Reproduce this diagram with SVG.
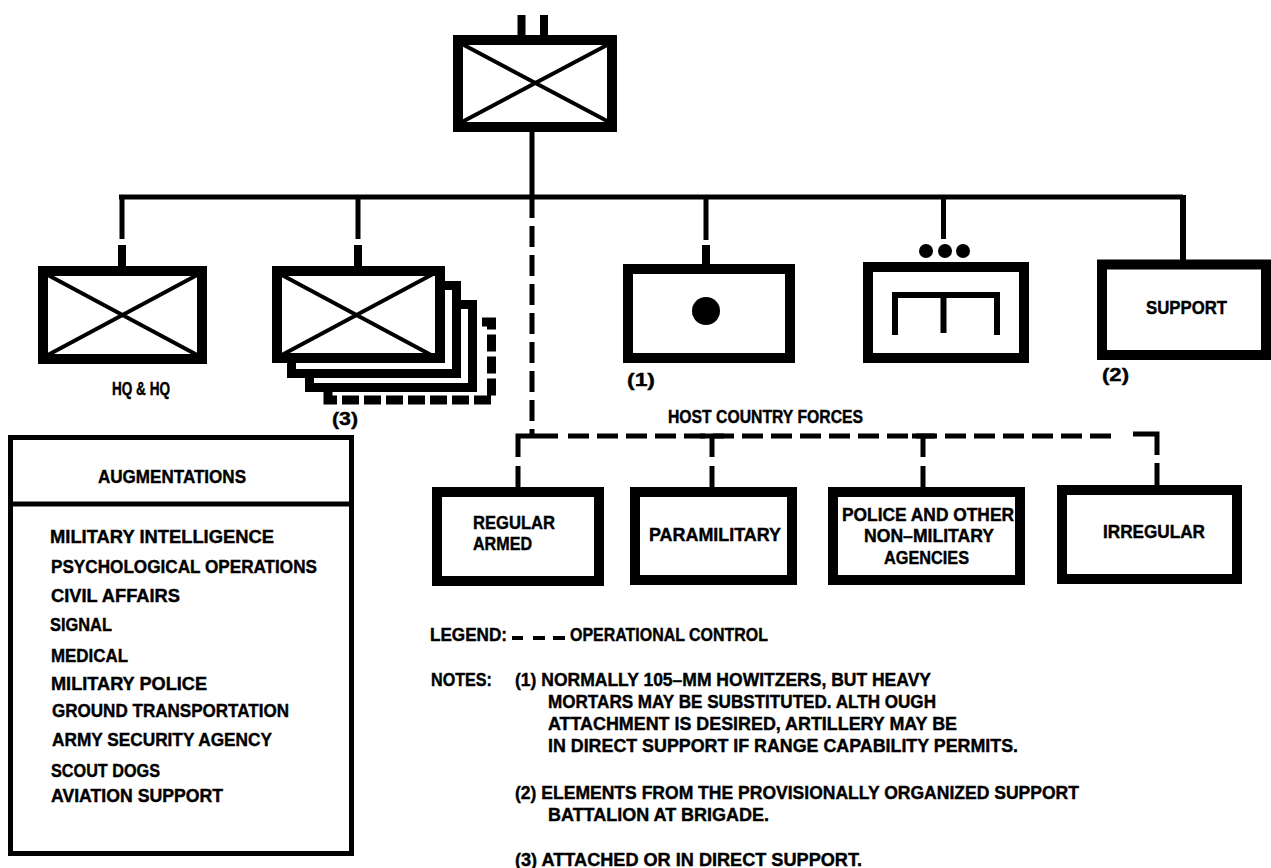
<svg xmlns="http://www.w3.org/2000/svg" width="1271" height="868" viewBox="0 0 1271 868">
<style>
.b{fill:#fff;stroke:#000;stroke-width:10}
.x{stroke:#000;stroke-width:4;fill:none}
.l{stroke:#000;stroke-width:5;fill:none}
.s{stroke:#000;stroke-width:8;fill:none}
.d{stroke:#000;stroke-width:5;fill:none;stroke-dasharray:21 8}
text{font-family:"Liberation Sans",Arial,sans-serif;font-weight:bold;font-size:18px;fill:#000;stroke:#000;stroke-width:.4}
</style>
<rect width="1271" height="868" fill="#fff"/>
<g id="connectors">
<path class="s" d="M521.500 15V36M544 15V36M122 245V266M358 245V266M706 245V264"/>
<path class="l" d="M532 132V197M119 197H1183M122 197V239M358 197V239M706 197V240M943.500 197V239"/>
<path class="l" style="stroke-width:6" d="M1183 195V260"/>
<path class="d" d="M532 197V436"/>
<path class="l" d="M518 487V466M518 457V436H558M712 487V466M712 457V436M923 487V466M923 457V436M1157 485V463M1157 455V434H1133M700 436H724M912 436H935"/>
<path class="d" d="M568 436H1118"/>
</g>
<g id="top"><rect class="b" x="458" y="40" width="154" height="87"/><path class="x" d="M462 44L609 122M609 44L462 122"/></g>
<g id="hq"><rect class="b" x="43" y="271" width="159" height="88"/><path class="x" d="M46 274L199 356M199 274L46 356"/><text x="112" y="395" textLength="58" lengthAdjust="spacingAndGlyphs">HQ &amp; HQ</text></g>
<g id="stack">
<rect fill="#fff" stroke="#000" stroke-width="9" stroke-dasharray="17 5" x="328" y="322" width="163.500" height="78"/>
<rect fill="#fff" stroke="#000" stroke-width="9" x="309.500" y="304.500" width="163" height="83"/>
<rect fill="#fff" stroke="#000" stroke-width="9" x="291.500" y="285.500" width="165" height="88"/>
<rect class="b" x="277" y="271" width="163" height="87"/><path class="x" d="M280 274L433 356M433 274L280 356"/>
<text x="332" y="425" textLength="26" lengthAdjust="spacingAndGlyphs">(3)</text></g>
<g id="artillery"><rect class="b" x="628" y="269" width="162" height="89"/><circle cx="706" cy="311" r="14"/><text x="627" y="386" textLength="28" lengthAdjust="spacingAndGlyphs">(1)</text></g>
<g id="engineer"><rect class="b" x="868" y="267" width="156" height="91"/><path fill="none" stroke="#000" stroke-width="6" d="M895 335V295H997V335M943.500 295V333"/><circle cx="926" cy="251" r="7"/><circle cx="945" cy="251" r="7"/><circle cx="963" cy="251" r="7"/></g>
<g id="support"><rect class="b" x="1102" y="264.500" width="164" height="90.500"/><text x="1146" y="314" textLength="81" lengthAdjust="spacingAndGlyphs">SUPPORT</text><text x="1102" y="381" textLength="27" lengthAdjust="spacingAndGlyphs">(2)</text></g>
<g id="augmentations">
<rect fill="#fff" stroke="#000" stroke-width="5" x="10.500" y="437.500" width="341" height="416"/>
<path stroke="#000" stroke-width="5" d="M8 504H354"/>
<text x="98" y="483" textLength="148" lengthAdjust="spacingAndGlyphs">AUGMENTATIONS</text>
<text x="50" y="543" textLength="224" lengthAdjust="spacingAndGlyphs">MILITARY INTELLIGENCE</text>
<text x="51" y="573" textLength="266" lengthAdjust="spacingAndGlyphs">PSYCHOLOGICAL OPERATIONS</text>
<text x="51" y="602" textLength="129" lengthAdjust="spacingAndGlyphs">CIVIL AFFAIRS</text>
<text x="50" y="631" textLength="62" lengthAdjust="spacingAndGlyphs">SIGNAL</text>
<text x="51" y="662" textLength="77" lengthAdjust="spacingAndGlyphs">MEDICAL</text>
<text x="51" y="690" textLength="156" lengthAdjust="spacingAndGlyphs">MILITARY POLICE</text>
<text x="52" y="717" textLength="237" lengthAdjust="spacingAndGlyphs">GROUND TRANSPORTATION</text>
<text x="52" y="746" textLength="220" lengthAdjust="spacingAndGlyphs">ARMY SECURITY AGENCY</text>
<text x="51" y="777" textLength="109" lengthAdjust="spacingAndGlyphs">SCOUT DOGS</text>
<text x="51" y="802" textLength="172" lengthAdjust="spacingAndGlyphs">AVIATION SUPPORT</text>
</g>
<text id="host-label" x="668" y="423" textLength="195" lengthAdjust="spacingAndGlyphs">HOST COUNTRY FORCES</text>
<g id="regular"><rect class="b" x="437" y="492" width="162" height="89"/><text x="473" y="529" textLength="82" lengthAdjust="spacingAndGlyphs">REGULAR</text><text x="473" y="550" textLength="59" lengthAdjust="spacingAndGlyphs">ARMED</text></g>
<g id="para"><rect class="b" x="635" y="492" width="157" height="88"/><text x="649" y="541" textLength="132" lengthAdjust="spacingAndGlyphs">PARAMILITARY</text></g>
<g id="police"><rect class="b" x="833" y="492" width="187" height="88"/><text x="842" y="521" textLength="172" lengthAdjust="spacingAndGlyphs">POLICE AND OTHER</text><text x="864" y="542" textLength="130" lengthAdjust="spacingAndGlyphs">NON–MILITARY</text><text x="884" y="564" textLength="85" lengthAdjust="spacingAndGlyphs">AGENCIES</text></g>
<g id="irregular"><rect class="b" x="1062" y="490" width="175" height="89"/><text x="1103" y="538" textLength="102" lengthAdjust="spacingAndGlyphs">IRREGULAR</text></g>
<g id="notes">
<text x="430" y="641" textLength="77" lengthAdjust="spacingAndGlyphs">LEGEND:</text>
<path stroke="#000" stroke-width="4" fill="none" d="M512 638H523M533 638H545M553 638H565"/>
<text x="570" y="641" textLength="198" lengthAdjust="spacingAndGlyphs">OPERATIONAL CONTROL</text>
<text x="431" y="686" textLength="61" lengthAdjust="spacingAndGlyphs">NOTES:</text>
<text x="515" y="686" textLength="416" lengthAdjust="spacingAndGlyphs">(1) NORMALLY 105–MM HOWITZERS, BUT HEAVY</text>
<text x="548" y="708" textLength="388" lengthAdjust="spacingAndGlyphs">MORTARS MAY BE SUBSTITUTED. ALTH OUGH</text>
<text x="548" y="730" textLength="409" lengthAdjust="spacingAndGlyphs">ATTACHMENT IS DESIRED, ARTILLERY MAY BE</text>
<text x="548" y="752" textLength="470" lengthAdjust="spacingAndGlyphs">IN DIRECT SUPPORT IF RANGE CAPABILITY PERMITS.</text>
<text x="515" y="799" textLength="564" lengthAdjust="spacingAndGlyphs">(2) ELEMENTS FROM THE PROVISIONALLY ORGANIZED SUPPORT</text>
<text x="548" y="821" textLength="221" lengthAdjust="spacingAndGlyphs">BATTALION AT BRIGADE.</text>
<text x="515" y="866" textLength="347" lengthAdjust="spacingAndGlyphs">(3) ATTACHED OR IN DIRECT SUPPORT.</text>
</g>
</svg>
